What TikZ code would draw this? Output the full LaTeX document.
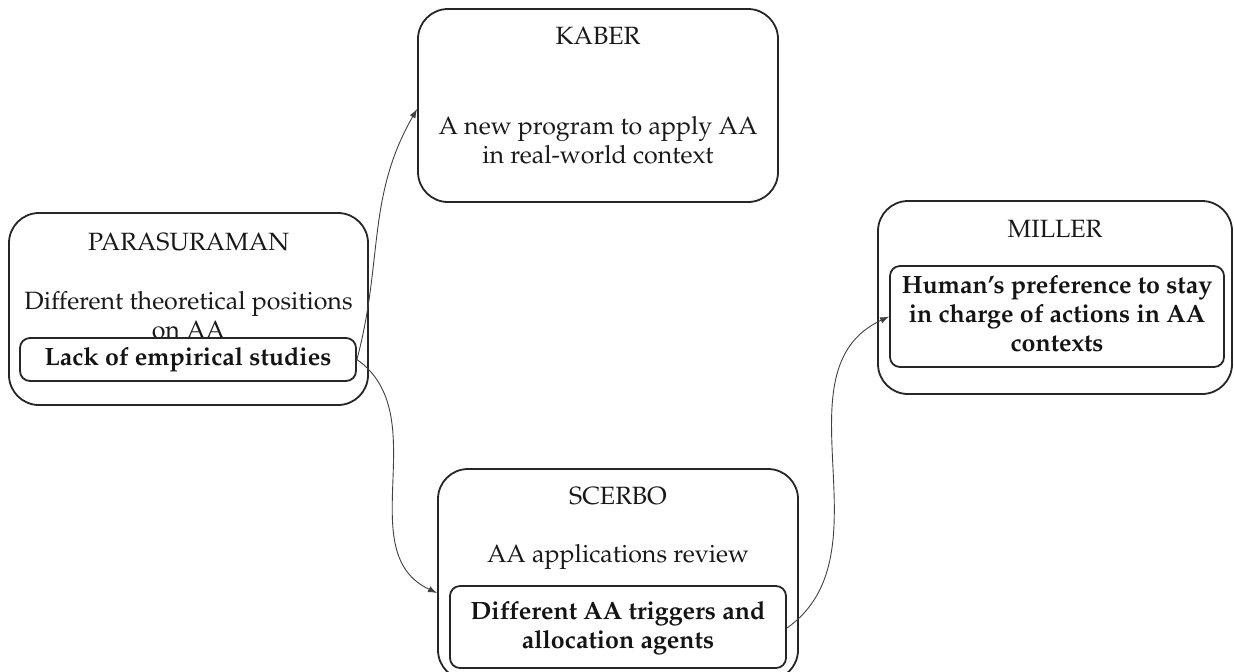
\documentclass[tikz,border=0pt]{standalone}
\usepackage[T1]{fontenc}
\usepackage{mathpazo}
\usetikzlibrary{arrows.meta,calc}
\begin{document}
\begin{tikzpicture}[x=0.5pt,y=-0.5pt,
  outerbox/.style={draw=black!85,line width=0.9pt,rounded corners=15pt,inner sep=0pt},
  innerbox/.style={draw=black!85,line width=0.9pt,rounded corners=5pt,inner sep=0pt},
  title/.style={font=\fontsize{12.5}{14.5}\selectfont,text=black!90,inner sep=0pt},
  body/.style={font=\fontsize{12.5}{14.5}\selectfont,text=black!90,align=center,inner sep=0pt},
  bold/.style={font=\fontsize{12.5}{14.5}\selectfont\bfseries,text=black!92,align=center,inner sep=0pt},
  conn/.style={draw=black!75,line width=0.45pt,-{Latex[length=4.5pt,width=3.2pt]}}]
\useasboundingbox (0,0) rectangle (1234,671);
% PARASURAMAN
\node[outerbox,minimum width=179.5pt,minimum height=96pt] (para) at (188.5,309) {};
\node[title] (parat) at (188.5,242) {PARASURAMAN};
\node[body] (parab) at (188.5,315) {Different theoretical positions\\on AA};
\node[innerbox,minimum width=168pt,minimum height=21.5pt] (lack) at (188,359.5) {};
\node[bold] (lackt) at (188,360) {Lack of empirical studies};
% KABER
\node[outerbox,minimum width=180pt,minimum height=96.5pt] (kaber) at (598,105.5) {};
\node[title] (kabert) at (598,36) {KABER};
\node[body] (kaberb) at (598,140) {A new program to apply AA\\in real-world context};
% MILLER
\node[outerbox,minimum width=177pt,minimum height=96.5pt] (miller) at (1055,297.5) {};
\node[title] (millert) at (1055,229) {MILLER};
\node[innerbox,minimum width=167pt,minimum height=50.5pt] (pref) at (1057,316.5) {};
\node[bold] (preft) at (1057,314) {Human's preference to stay\\in charge of actions in AA\\contexts};
% SCERBO
\node[outerbox,minimum width=180pt,minimum height=105.5pt] (scerbo) at (618,574.5) {};
\node[title] (scerbot) at (618,496) {SCERBO};
\node[body] (scerbob) at (618,557) {AA applications review};
\node[innerbox,minimum width=168pt,minimum height=41pt] (trig) at (618,627) {};
\node[bold] (trigt) at (618,628.5) {Different AA triggers and\\allocation agents};
% connectors
\draw[conn] (lack.east) to[out=75,in=240] ([yshift=-1.75pt]kaber.west);
\draw[conn] (lack.east) to[out=-35,in=155] ([yshift=-9.25pt]scerbo.west);
\draw[conn] ([yshift=-0.5pt]trig.east) to[out=35,in=205] (pref.west);
\end{tikzpicture}
\end{document}
